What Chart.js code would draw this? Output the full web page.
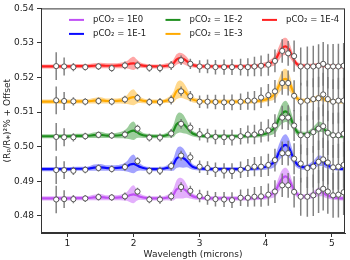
<!DOCTYPE html>
<html>
<head>
<meta charset="utf-8">
<script src="https://cdn.jsdelivr.net/npm/chart.js@4/dist/chart.umd.min.js"></script>
<style>
  html, body { margin: 0; padding: 0; background: #fff; }
  #wrap { width: 350px; height: 260px; }
</style>
</head>
<body>
<div id="wrap"><canvas id="c"></canvas></div>
<script>
// model wavelength grid (microns)
const wl = [0.6, 0.8, 1.0, 1.15, 1.3, 1.4, 1.5, 1.6, 1.7, 1.8, 1.9, 1.95, 2.0, 2.05, 2.1, 2.2, 2.3, 2.4, 2.5, 2.6,
  2.65, 2.7, 2.75, 2.8, 2.85, 2.9, 3.0, 3.2, 3.4, 3.6, 3.8, 3.95, 4.05, 4.15, 4.2, 4.25, 4.3, 4.35, 4.4, 4.45,
  4.5, 4.6, 4.7, 4.75, 4.8, 4.85, 4.9, 5.0, 5.1, 5.2]

// model depth above each offset, in units of 0.001
const modelE0 = [0, 0, 0, 0.1, 0.1, 0.3, 0.4, 0.2, 0.2, 0.3, 0.6, 1.0, 1.2, 0.9, 0.5, 0.1, 0, 0, 0.2, 1.0,
  2.6, 3.0, 2.8, 2.2, 1.2, 0.6, 0.2, 0, 0, 0, 0.1, 0.3, 0.8, 2.2, 4.2, 5.8, 6.4, 5.6, 3.6, 1.8,
  0.9, 0.5, 0.9, 1.4, 1.9, 1.8, 1.2, 0.4, 0.1, 0]
const modelE1 = [0, 0, 0, 0.1, 0.1, 0.4, 0.5, 0.3, 0.3, 0.4, 0.8, 1.3, 1.5, 1.1, 0.6, 0.1, 0, 0, 0.3, 1.2,
  3.0, 3.5, 3.2, 2.5, 1.4, 0.6, 0.2, 0, 0, 0, 0.1, 0.4, 1.0, 2.6, 4.8, 6.4, 7.0, 6.2, 4.0, 2.0,
  1.0, 0.5, 1.1, 1.7, 2.4, 2.3, 1.5, 0.5, 0.1, 0]
const modelE2 = [0, 0, 0, 0.1, 0.1, 0.3, 0.4, 0.2, 0.2, 0.3, 0.8, 1.4, 1.6, 1.2, 0.6, 0.1, 0, 0, 0.3, 1.4,
  3.4, 4.0, 3.6, 2.7, 1.5, 0.7, 0.2, 0, 0, 0, 0.2, 0.5, 1.2, 2.8, 5.0, 6.6, 7.2, 6.4, 4.2, 2.0,
  0.9, 0.6, 1.3, 2.0, 2.7, 2.6, 1.7, 0.5, 0.1, 0]
const modelE3 = [0, 0, 0, 0.1, 0.1, 0.3, 0.4, 0.2, 0.2, 0.3, 0.6, 1.1, 1.3, 1.0, 0.5, 0.1, 0, 0, 0.3, 1.2,
  3.0, 3.6, 3.3, 2.4, 1.3, 0.6, 0.2, 0, 0, 0, 0.1, 0.4, 1.0, 2.5, 4.6, 6.2, 6.6, 5.8, 3.6, 1.6,
  0.6, 0.3, 0.5, 0.8, 1.1, 1.0, 0.6, 0.2, 0.1, 0]
const modelE4 = [0, 0, 0, 0.1, 0.1, 0.2, 0.3, 0.2, 0.2, 0.3, 0.5, 0.8, 0.9, 0.7, 0.4, 0.1, 0, 0, 0.2, 0.8,
  2.0, 2.4, 2.2, 1.6, 0.8, 0.4, 0.1, 0, 0, 0, 0.1, 0.3, 0.8, 2.0, 3.8, 5.4, 5.8, 5.0, 3.0, 1.2,
  0.4, 0.2, 0.2, 0.3, 0.4, 0.4, 0.2, 0.1, 0, 0]

// half width of the shaded model spread, units of 0.001
const spreadE0 = [0.6, 0.6, 0.6, 0.6, 0.6, 0.8, 0.9, 0.7, 0.7, 0.8, 1.3, 2.1, 2.6, 1.6, 0.9, 0.6, 0.6, 0.6, 0.7, 1.6,
  2.6, 3.0, 2.8, 2.0, 1.2, 0.8, 0.6, 0.6, 0.6, 0.6, 0.6, 0.7, 0.9, 1.6, 2.1, 2.5, 2.5, 2.3, 1.6, 1.0,
  0.8, 0.7, 0.9, 1.1, 1.3, 1.2, 1.0, 0.7, 0.6, 0.6]
const spreadE1 = [0.6, 0.6, 0.6, 0.6, 0.6, 0.9, 1.0, 0.8, 0.8, 0.9, 1.5, 2.3, 2.7, 1.7, 1.0, 0.6, 0.6, 0.6, 0.7, 1.7,
  2.7, 3.0, 2.8, 2.0, 1.2, 0.8, 0.6, 0.6, 0.6, 0.6, 0.6, 0.7, 1.0, 1.7, 2.3, 2.9, 3.1, 2.7, 1.9, 1.2,
  0.9, 0.7, 1.0, 1.3, 1.5, 1.4, 1.1, 0.7, 0.6, 0.6]
const spreadE2 = [0.6, 0.6, 0.6, 0.6, 0.6, 0.8, 0.9, 0.7, 0.7, 0.9, 1.5, 2.3, 2.7, 1.7, 1.0, 0.6, 0.6, 0.6, 0.7, 1.7,
  2.7, 2.9, 2.7, 2.0, 1.2, 0.8, 0.6, 0.6, 0.6, 0.6, 0.6, 0.7, 1.0, 1.7, 2.3, 2.9, 3.1, 2.7, 1.9, 1.2,
  0.9, 0.7, 1.0, 1.3, 1.5, 1.4, 1.1, 0.7, 0.6, 0.6]
const spreadE3 = [0.6, 0.6, 0.6, 0.6, 0.6, 0.8, 0.9, 0.7, 0.7, 0.8, 1.3, 2.0, 2.3, 1.5, 0.9, 0.6, 0.6, 0.6, 0.7, 1.5,
  2.3, 2.5, 2.3, 1.8, 1.1, 0.8, 0.6, 0.6, 0.6, 0.6, 0.6, 0.7, 0.9, 1.6, 2.1, 2.7, 2.9, 2.5, 1.7, 1.0,
  0.8, 0.6, 0.7, 0.8, 0.9, 0.9, 0.7, 0.6, 0.6, 0.6]
const spreadE4 = [0.6, 0.6, 0.6, 0.6, 0.6, 0.7, 0.8, 0.7, 0.7, 0.8, 1.1, 1.6, 1.9, 1.3, 0.8, 0.6, 0.6, 0.6, 0.7, 1.1,
  1.5, 1.6, 1.5, 1.3, 0.9, 0.7, 0.6, 0.6, 0.6, 0.6, 0.6, 0.7, 0.9, 1.5, 2.0, 2.4, 2.5, 2.2, 1.5, 0.9,
  0.7, 0.6, 0.6, 0.6, 0.7, 0.7, 0.6, 0.6, 0.6, 0.6]

// simulated observations (binned)
const binWl = [0.83, 0.95, 1.09, 1.27, 1.47, 1.67, 1.87, 2.06, 2.24, 2.40, 2.57, 2.72, 2.86, 3.00, 3.12, 3.24, 3.37, 3.49,
  3.62, 3.73, 3.83, 3.93, 4.04, 4.14, 4.25, 4.34, 4.43, 4.53, 4.63, 4.72, 4.80, 4.87, 4.94, 5.02, 5.10, 5.18]
const errBar = [4.0, 2.6, 1.2, 1.0, 1.0, 1.0, 1.1, 1.1, 1.1, 1.2, 1.3, 1.4, 1.5, 1.8, 2.0, 2.1, 2.2, 2.3,
  2.4, 2.6, 2.8, 3.0, 3.2, 3.3, 3.4, 3.6, 4.5, 5.5, 5.8, 6.0, 6.2, 6.3, 6.4, 6.5, 6.6, 6.6]
const obsE0 = [-0.3, -0.2, -0.2, 0, 0.4, 0.3, 0.6, 2.0, -0.3, -0.3, 0.6, 3.3, 2.2, 0.7, 0.2, -0.2, -0.3, -0.5,
  0.2, 0.2, 0.5, 0.6, 1.1, 2.0, 3.8, 3.8, 1.9, 0.5, 0.5, 0.9, 2.0, 2.8, 2.0, 0.9, 1.1, 1.8]
const obsE1 = [-0.3, -0.3, -0.5, -0.2, 0.3, 0, 0.6, 2.3, -0.5, -0.5, 0.9, 3.9, 3.4, 0.7, 0.3, -0.2, -0.5, -0.6,
  -0.2, 0.3, 0.7, 0.7, 1.2, 2.6, 4.6, 4.6, 3.0, 1.6, 0.3, 0.7, 2.1, 2.8, 1.9, 0.5, 0.7, 1.2]
const obsE2 = [-0.2, -0.3, -0.3, 0, 0.4, 0.2, 0.5, 2.2, -0.4, -0.4, 0.8, 3.6, 2.5, 0.6, 0.2, -0.2, -0.3, -0.4,
  0, 0.5, 0.5, 1.2, 1.7, 3.1, 5.4, 5.4, 3.1, 0.3, 0.3, 1.2, 2.2, 2.9, 1.0, 0.3, 0.3, 0.7]
const obsE3 = [0.4, 0.2, 0.1, 0, 0.2, 0, 0.65, 1.1, -0.1, -0.1, 0.5, 3.0, 1.6, 0, 0, -0.1, -0.2, -0.2,
  0, 0.3, 0.3, 1.2, 1.9, 3.0, 5.4, 5.4, 1.7, 0, 0.3, 0.75, 1.0, 2.1, 0.75, 0, 0.3, 0.3]
const obsE4 = [0.1, 0, -0.2, -0.2, 0, -0.5, 0.3, 0.3, -0.4, -0.5, 0.3, 1.8, 0.75, 0, 0, -0.2, -0.2, -0.2,
  -0.2, -0.2, 0, 0.2, 0.5, 1.6, 4.5, 3.8, 3.0, 0, 0, 0, 0.2, 0.75, 0, 0, 0, 0.2]

const labels = ['pCO\u2082 = 1E0', 'pCO\u2082 = 1E-1', 'pCO\u2082 = 1E-2', 'pCO\u2082 = 1E-3', 'pCO\u2082 = 1E-4']
const offsets = [0.485, 0.4935, 0.503, 0.513, 0.5232]
const xTicks = [1, 2, 3, 4, 5]
const yTicks = [0.48, 0.49, 0.50, 0.51, 0.52, 0.53, 0.54]

const lineColors = ['#c050f5', '#0a0aff', '#1f8f1f', '#ffaa00', '#ff2020']
const bandColors = ['rgba(200,95,250,0.5)', 'rgba(50,50,255,0.45)', 'rgba(35,145,35,0.45)',
  'rgba(255,180,30,0.5)', 'rgba(255,60,60,0.45)']

const models = [modelE0, modelE1, modelE2, modelE3, modelE4]
const spreads = [spreadE0, spreadE1, spreadE2, spreadE3, spreadE4]
const observed = [obsE0, obsE1, obsE2, obsE3, obsE4]

Chart.defaults.font.family = '"DejaVu Sans", sans-serif'
Chart.defaults.color = '#222'

const datasets = []
models.forEach((model, s) => {
  const off = offsets[s]
  const at = (v) => off + v * 0.001
  datasets.push({
    label: labels[s] + ' lo',
    data: wl.map((w, i) => ({ x: w, y: at(model[i] - spreads[s][i]) })),
    borderWidth: 0,
    pointRadius: 0,
    fill: false,
    cubicInterpolationMode: 'monotone',
    order: 4,
  })
  datasets.push({
    label: labels[s] + ' hi',
    data: wl.map((w, i) => ({ x: w, y: at(model[i] + spreads[s][i]) })),
    borderWidth: 0,
    pointRadius: 0,
    fill: '-1',
    backgroundColor: bandColors[s],
    cubicInterpolationMode: 'monotone',
    order: 4,
  })
  datasets.push({
    label: labels[s],
    data: wl.map((w, i) => ({ x: w, y: at(model[i]) })),
    borderColor: lineColors[s],
    borderWidth: 2.2,
    pointRadius: 0,
    fill: false,
    cubicInterpolationMode: 'monotone',
    order: 3,
  })
  const bars = []
  binWl.forEach((w, i) => {
    bars.push({ x: w, y: at(observed[s][i] - errBar[i]) })
    bars.push({ x: w, y: at(observed[s][i] + errBar[i]) })
    bars.push({ x: w, y: null })
  })
  datasets.push({
    label: labels[s] + ' err',
    data: bars,
    borderColor: 'rgba(115,115,115,0.9)',
    borderWidth: 1.5,
    pointRadius: 0,
    spanGaps: false,
    fill: false,
    order: 2,
  })
  datasets.push({
    label: labels[s] + ' obs',
    data: binWl.map((w, i) => ({ x: w, y: at(observed[s][i]) })),
    showLine: false,
    pointRadius: 2.6,
    pointBackgroundColor: '#fff',
    pointBorderColor: '#555',
    pointBorderWidth: 1,
    order: 1,
  })
})

// matplotlib style frame and a two row legend inside the axes
const frame = {
  id: 'frame',
  afterDraw(chart) {
    const { ctx, chartArea: a } = chart
    ctx.save()
    ctx.strokeStyle = '#333'
    ctx.lineWidth = 1
    ctx.strokeRect(a.left + 0.5, a.top + 0.5, a.right - a.left - 1, a.bottom - a.top - 1)

    ctx.font = '8.5px "DejaVu Sans", sans-serif'
    ctx.textBaseline = 'middle'
    ctx.fillStyle = '#222'
    labels.forEach((text, s) => {
      const col = Math.floor(s / 2)
      const row = s % 2
      const x = a.left + 28 + col * 96.5
      const y = a.top + 11.5 + row * 14
      ctx.strokeStyle = lineColors[s]
      ctx.lineWidth = 2
      ctx.beginPath()
      ctx.moveTo(x, y)
      ctx.lineTo(x + 15, y)
      ctx.stroke()
      ctx.fillText(text, x + 24, y)
    })
    ctx.restore()
  },
}

new Chart(document.getElementById('c'), {
  type: 'line',
  data: { datasets },
  options: {
    responsive: true,
    maintainAspectRatio: false,
    animation: false,
    layout: { padding: { top: 3, right: 1, left: 0, bottom: 0 } },
    plugins: {
      legend: { display: false },
      tooltip: { enabled: false },
    },
    scales: {
      x: {
        type: 'linear',
        min: 0.6,
        max: 5.2,
        afterBuildTicks: (axis) => { axis.ticks = xTicks.map((v) => ({ value: v })) },
        afterFit: (axis) => { axis.height = 27 },
        grid: { drawOnChartArea: false, tickLength: 4, color: '#333' },
        border: { color: '#333' },
        ticks: { font: { size: 9 }, padding: 1, maxRotation: 0, callback: (v) => String(v) },
        title: { display: true, text: 'Wavelength (microns)', font: { size: 9 }, padding: { top: 0, bottom: 0 } },
      },
      y: {
        min: 0.475,
        max: 0.54,
        afterBuildTicks: (axis) => { axis.ticks = yTicks.map((v) => ({ value: v })) },
        afterFit: (axis) => { axis.width = 41 },
        grid: { drawOnChartArea: false, tickLength: 4, color: '#333' },
        border: { color: '#333' },
        ticks: { font: { size: 9 }, padding: 3, callback: (v) => v.toFixed(2) },
        title: { display: true, text: '(R\u209A/R\u204E)\u00B2% + Offset', font: { size: 9 }, padding: { top: 2, bottom: 0 } },
      },
    },
  },
  plugins: [frame],
})
</script>
</body>
</html>
